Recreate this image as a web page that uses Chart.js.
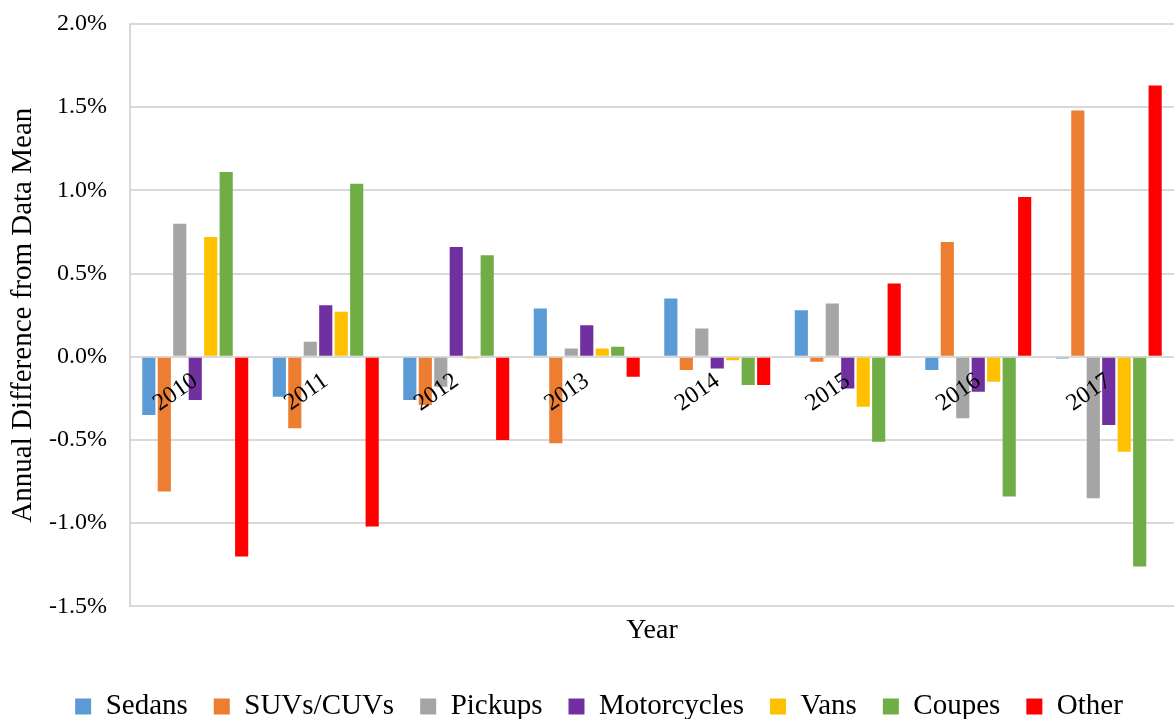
<!DOCTYPE html>
<html>
<head>
<meta charset="utf-8">
<title>Annual Difference from Data Mean</title>
<script src="https://cdn.jsdelivr.net/npm/chart.js@4"></script>
<style>
  html, body { margin: 0; padding: 0; background: #fff; overflow: hidden; }
  #wrap { width: 1174px; height: 719px; position: relative; }
</style>
</head>
<body>
<div id="wrap"><canvas id="chart"></canvas></div>
<script>
  // --- Data (percent) ---
  const years = ['2010', '2011', '2012', '2013', '2014', '2015', '2016', '2017'];

  const sedans      = [-0.35, -0.24, -0.26,  0.29,  0.35,  0.28, -0.08, -0.01];
  const suvs        = [-0.81, -0.43, -0.29, -0.52, -0.08, -0.03,  0.69,  1.48];
  const pickups     = [ 0.80,  0.09, -0.18,  0.05,  0.17,  0.32, -0.37, -0.85];
  const motorcycles = [-0.26,  0.31,  0.66,  0.19, -0.07, -0.19, -0.21, -0.41];
  const vans        = [ 0.72,  0.27, -0.01,  0.05, -0.02, -0.30, -0.15, -0.57];
  const coupes      = [ 1.11,  1.04,  0.61,  0.06, -0.17, -0.51, -0.84, -1.26];
  const other       = [-1.20, -1.02, -0.50, -0.12, -0.17,  0.44,  0.96,  1.63];

  const yTicks = [-1.5, -1.0, -0.5, 0.0, 0.5, 1.0, 1.5, 2.0];

  const FONT = "'Liberation Serif', 'Times New Roman', serif";

  function series(label, data, color) {
    return {
      label: label,
      data: data,
      backgroundColor: color,
      borderWidth: 0,
      categoryPercentage: 0.83,
      barPercentage: 0.85
    };
  }

  // nudge the legend a little to the right, like the original
  const legendShift = {
    id: 'legendShift',
    afterLayout(chart) {
      if (!chart.legend) return;
      chart.legend.left += 9;
      chart.legend.right += 9;
    }
  };

  new Chart(document.getElementById('chart'), {
    type: 'bar',
    data: {
      labels: years,
      datasets: [
        series('Sedans', sedans, '#5B9BD5'),
        series('SUVs/CUVs', suvs, '#ED7D31'),
        series('Pickups', pickups, '#A5A5A5'),
        series('Motorcycles', motorcycles, '#7030A0'),
        series('Vans', vans, '#FFC000'),
        series('Coupes', coupes, '#70AD47'),
        series('Other', other, '#FF0000')
      ]
    },
    plugins: [legendShift],
    options: {
      responsive: true,
      maintainAspectRatio: false,
      animation: false,
      layout: { padding: { top: 24, right: 0, left: 6, bottom: -12 } },
      plugins: {
        tooltip: { enabled: false },
        legend: {
          position: 'bottom',
          labels: {
            font: { family: FONT, size: 29 },
            color: '#000',
            boxWidth: 16,
            boxHeight: 16,
            padding: 26
          }
        }
      },
      scales: {
        x: {
          type: 'category',
          position: { y: 0 },
          grid: { display: false },
          border: { display: false },
          // rotated year labels should not push the plot area inwards
          afterFit: s => { s.paddingLeft = 0; s.paddingRight = 0; },
          ticks: {
            z: 1,
            font: { family: FONT, size: 24 },
            color: '#000',
            minRotation: 35,
            maxRotation: 35,
            autoSkip: false,
            padding: 2
          }
        },
        x2: {
          type: 'category',
          position: 'bottom',
          grid: { display: false },
          border: { display: false },
          ticks: { display: false },
          title: {
            display: true,
            text: 'Year',
            font: { family: FONT, size: 28 },
            color: '#000',
            padding: { top: -1, bottom: 19 }
          }
        },
        y: {
          min: -1.5,
          max: 2.0,
          afterBuildTicks: axis => { axis.ticks = yTicks.map(v => ({ value: v })); },
          afterFit: s => { s.width = 124; s.paddingTop = 0; s.paddingBottom = 0; },
          grid: { color: '#D9D9D9', lineWidth: 2, drawTicks: false },
          border: { display: true, color: '#D9D9D9', width: 2 },
          ticks: {
            font: { family: FONT, size: 24 },
            color: '#000',
            padding: 23,
            callback: v => v.toFixed(1) + '%'
          },
          title: {
            display: true,
            text: 'Annual Difference from Data Mean',
            font: { family: FONT, size: 29 },
            color: '#000',
            padding: { top: 0, bottom: 0 }
          }
        }
      }
    }
  });
</script>
</body>
</html>
